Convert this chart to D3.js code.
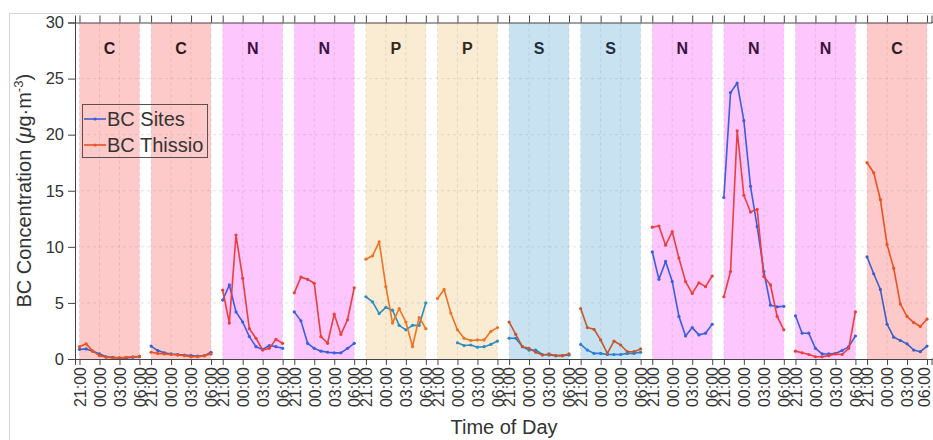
<!DOCTYPE html>
<html>
<head>
<meta charset="utf-8">
<script src="https://cdn.jsdelivr.net/npm/d3@7"></script>
<style>
  body { margin: 0; background: #fff; }
  svg { font-family: "Liberation Sans", Arial, Helvetica, sans-serif; }
</style>
</head>
<body>
<svg id="chart" width="933" height="440"></svg>
<script>
// night-time BC, hourly from 21:00 to 06:00, one array per night
const hourLabels = ['21:00', '22:00', '23:00', '00:00', '01:00', '02:00', '03:00', '04:00', '05:00', '06:00'];
const tickLabels = ['21:00', '00:00', '03:00', '06:00'];
const tickHours = [0, 3, 6, 9];
const periods = ['C', 'C', 'N', 'N', 'P', 'P', 'S', 'S', 'N', 'N', 'N', 'C'];
const seriesNames = ['BC Sites', 'BC Thissio'];
const yTicks = [0, 5, 10, 15, 20, 25, 30];

const sites = [
  [0.85, 0.9, 0.7, 0.45, 0.2, 0.15, 0.1, 0.1, 0.15, 0.2],
  [1.15, 0.75, 0.55, 0.45, 0.4, 0.35, 0.3, 0.25, 0.3, 0.6],
  [5.25, 6.6, 4.2, 3.3, 2.0, 1.1, 0.85, 1.2, 1.1, 0.95],
  [4.2, 3.4, 1.4, 0.95, 0.7, 0.6, 0.55, 0.55, 0.95, 1.4],
  [5.55, 5.1, 4.05, 4.6, 4.35, 3.0, 2.6, 3.0, 3.0, 5.0],
  [null, null, null, 1.45, 1.2, 1.25, 1.05, 1.1, 1.3, 1.6],
  [1.85, 1.85, 1.1, 0.8, 0.8, 0.4, 0.35, 0.3, 0.3, 0.35],
  [1.3, 0.8, 0.5, 0.5, 0.4, 0.4, 0.4, 0.5, 0.5, 0.6],
  [9.55, 7.1, 8.7, 6.9, 3.8, 2.05, 2.8, 2.15, 2.3, 3.1],
  [14.4, 23.75, 24.6, 21.25, 15.4, 11.8, 7.8, 4.8, 4.65, 4.7],
  [3.85, 2.3, 2.3, 0.95, 0.45, 0.45, 0.5, 0.75, 1.1, 2.05],
  [9.1, 7.6, 6.2, 3.1, 1.95, 1.65, 1.35, 0.8, 0.65, 1.15]
];

const thissio = [
  [1.1, 1.35, 0.7, 0.3, 0.15, 0.1, 0.1, 0.15, 0.2, 0.25],
  [0.6, 0.5, 0.45, 0.4, 0.35, 0.3, 0.2, 0.2, 0.3, 0.45],
  [6.15, 3.2, 11.05, 7.2, 2.7, 1.85, 0.8, 0.95, 1.75, 1.4],
  [5.9, 7.3, 7.1, 6.75, 2.0, 1.4, 4.0, 2.2, 3.5, 6.35],
  [8.9, 9.2, 10.45, 6.45, 3.2, 4.5, 3.3, 1.1, 3.7, 2.7],
  [5.4, 6.2, 4.1, 2.6, 1.85, 1.65, 1.7, 1.7, 2.45, 2.8],
  [3.3, 2.2, 1.1, 0.95, 0.6, 0.35, 0.45, 0.3, 0.3, 0.45],
  [4.5, 2.8, 2.65, 1.7, 0.5, 1.6, 1.25, 0.65, 0.65, 0.9],
  [11.75, 11.85, 10.15, 11.35, 9.0, 6.9, 5.85, 6.8, 6.45, 7.4],
  [5.55, 7.8, 20.35, 14.6, 13.1, 13.35, 7.35, 6.6, 3.8, 2.6],
  [0.7, 0.55, 0.4, 0.2, 0.2, 0.3, 0.45, 0.4, 0.95, 4.2],
  [17.5, 16.6, 14.2, 10.2, 8.1, 4.9, 3.8, 3.25, 2.9, 3.55]
];

// colours per period type
const periodStyle = {
  C: { bg: '#fdc9c9', label: '#2e1c1c', sites: '#3d5fc4', thissio: '#ea5223' },
  N: { bg: '#fdc6fd', label: '#3a1242', sites: '#3a5ee0', thissio: '#e8403c' },
  P: { bg: '#faebd3', label: '#33291a', sites: '#2a8fc0', thissio: '#ee7320' },
  S: { bg: '#c9e2f1', label: '#1e2e3c', sites: '#2a7fd0', thissio: '#c4582c' }
};

const PERIOD = 10.75;   // hours from one night start to the next on the axis
const NIGHT = 9;        // 21:00 -> 06:00
const PAD = 0.675;

const svg = d3.select('#chart');
const margin = { left: 75, right: 931.5, top: 22.5, bottom: 359 };

const x = d3.scaleLinear()
  .domain([-PAD, (periods.length - 1) * PERIOD + NIGHT + PAD])
  .range([margin.left, margin.right]);
const y = d3.scaleLinear().domain([0, 30]).range([margin.bottom, margin.top]);

const allTicks = [];
periods.forEach((p, i) => tickHours.forEach((h, k) => allTicks.push({ v: i * PERIOD + h, label: tickLabels[k] })));
const tickValues = allTicks.map(d => d.v);
const tickText = new Map(allTicks.map(d => [d.v, d.label]));

// figure frame
svg.append('rect')
  .attr('x', 9.5).attr('y', 13.5).attr('width', 940).attr('height', 440)
  .attr('fill', 'none').attr('stroke', '#d4d4d4');

svg.append('defs').append('clipPath').attr('id', 'plot')
  .append('rect')
  .attr('x', margin.left).attr('y', margin.top)
  .attr('width', 933 - margin.left).attr('height', margin.bottom - margin.top);

const plot = svg.append('g').attr('clip-path', 'url(#plot)');

// background shading for each night
plot.selectAll('rect.night')
  .data(periods)
  .join('rect')
  .attr('class', 'night')
  .attr('x', (d, i) => x(i * PERIOD))
  .attr('width', (d, i) => x(i * PERIOD + NIGHT) - x(i * PERIOD))
  .attr('y', y(30))
  .attr('height', y(0) - y(30))
  .attr('fill', d => periodStyle[d].bg);

// dashed grid
plot.selectAll('line.hgrid')
  .data(yTicks.slice(1, -1))
  .join('line')
  .attr('x1', margin.left).attr('x2', 933)
  .attr('y1', d => y(d)).attr('y2', d => y(d))
  .attr('stroke', '#8a8a8a').attr('stroke-opacity', 0.22)
  .attr('stroke-dasharray', '3,3');

plot.selectAll('line.vgrid')
  .data(tickValues)
  .join('line')
  .attr('x1', d => x(d)).attr('x2', d => x(d))
  .attr('y1', margin.top).attr('y2', margin.bottom)
  .attr('stroke', '#8a8a8a').attr('stroke-opacity', 0.22)
  .attr('stroke-dasharray', '3,3');

// panel letters
plot.selectAll('text.period')
  .data(periods)
  .join('text')
  .attr('x', (d, i) => x(i * PERIOD + NIGHT / 2))
  .attr('y', 54)
  .attr('text-anchor', 'middle')
  .attr('font-weight', 'bold')
  .attr('font-size', 16)
  .attr('fill', d => periodStyle[d].label)
  .text(d => d);

// series
const line = d3.line()
  .defined(d => d.v !== null)
  .x(d => x(d.t))
  .y(d => y(d.v));

function drawSeries(values, key) {
  values.forEach((night, i) => {
    const pts = night.map((v, h) => ({ t: i * PERIOD + h, v: v, hour: hourLabels[h] }));
    const col = periodStyle[periods[i]][key];
    plot.append('path')
      .datum(pts)
      .attr('d', line)
      .attr('fill', 'none')
      .attr('stroke', col)
      .attr('stroke-width', 1.6)
      .attr('stroke-linejoin', 'round');
    plot.selectAll(null)
      .data(pts.filter(d => d.v !== null))
      .join('circle')
      .attr('cx', d => x(d.t))
      .attr('cy', d => y(d.v))
      .attr('r', 1.6)
      .attr('fill', col);
  });
}
drawSeries(sites, 'sites');
drawSeries(thissio, 'thissio');

// axes
const axisColor = '#444';

const yAxis = svg.append('g')
  .attr('transform', `translate(${margin.left},0)`)
  .call(d3.axisLeft(y).tickValues(yTicks).tickSize(7).tickPadding(4));
yAxis.selectAll('text').attr('font-size', 16.5).attr('fill', '#333');

const xAxis = svg.append('g')
  .attr('transform', `translate(0,${margin.bottom})`)
  .call(d3.axisBottom(x).tickValues(tickValues).tickSize(6).tickFormat(d => tickText.get(d)));
xAxis.selectAll('text')
  .attr('transform', 'rotate(-90)')
  .attr('text-anchor', 'end')
  .attr('x', -8)
  .attr('y', 0)
  .attr('dy', '0.36em')
  .attr('font-size', 16)
  .attr('fill', '#333');

// keep the last rotated labels inside the window
xAxis.selectAll('text').each(function () {
  const box = this.getBoundingClientRect();
  const over = box.right - 932.5;
  if (over > 0) d3.select(this).attr('y', -over);
});

const topAxis = svg.append('g')
  .attr('transform', `translate(0,${margin.top})`)
  .call(d3.axisTop(x).tickValues(tickValues).tickSize(7).tickFormat(''));

[yAxis, xAxis, topAxis].forEach(g => {
  g.selectAll('path.domain').attr('stroke', axisColor);
  g.selectAll('.tick line').attr('stroke', axisColor);
});

// stretch the top and bottom axis lines to the figure edge
[margin.top, margin.bottom].forEach(yy => {
  svg.append('line')
    .attr('x1', margin.right).attr('x2', 933)
    .attr('y1', yy).attr('y2', yy)
    .attr('stroke', axisColor);
});

// axis titles
const yTitle = svg.append('text')
  .attr('transform', `translate(31,${(margin.top + margin.bottom) / 2}) rotate(-90)`)
  .attr('text-anchor', 'middle')
  .attr('font-size', 20)
  .attr('fill', '#333');
yTitle.append('tspan').text('BC Concentration (');
yTitle.append('tspan').attr('font-style', 'italic').text('\u03bc');
yTitle.append('tspan').text('g\u00b7m');
yTitle.append('tspan').attr('font-size', 13).attr('dy', -8).text('-3');
yTitle.append('tspan').attr('dy', 8).text(')');

svg.append('text')
  .attr('x', 504)
  .attr('y', 434)
  .attr('text-anchor', 'middle')
  .attr('font-size', 20)
  .attr('fill', '#333')
  .text('Time of Day');

// legend
const legend = svg.append('g');
legend.append('rect')
  .attr('x', 82.5).attr('y', 104.5).attr('width', 125).attr('height', 53)
  .attr('fill', 'none').attr('stroke', '#5a5050');
const legendColors = [periodStyle.N.sites, periodStyle.C.thissio];
seriesNames.forEach((name, i) => {
  const ly = 119 + i * 26;
  legend.append('line')
    .attr('x1', 84).attr('x2', 106).attr('y1', ly).attr('y2', ly)
    .attr('stroke', legendColors[i]).attr('stroke-width', 1.6);
  legend.append('circle')
    .attr('cx', 95).attr('cy', ly).attr('r', 1.6).attr('fill', legendColors[i]);
  legend.append('text')
    .attr('x', 107).attr('y', ly + 7)
    .attr('font-size', 20)
    .attr('fill', '#333')
    .text(name);
});
</script>
</body>
</html>
